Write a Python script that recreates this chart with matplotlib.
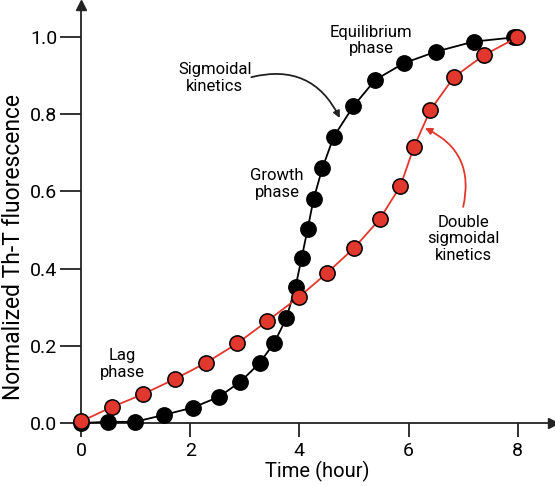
import matplotlib
matplotlib.use('Agg')
import matplotlib.pyplot as plt

plt.rcParams['font.family'] = ['Roboto', 'DejaVu Sans']

# sigmoidal (black) series
time_sig = [0, 0.49, 0.99, 1.52, 2.05, 2.53, 2.92, 3.27, 3.54, 3.76, 3.93,
            4.04, 4.15, 4.26, 4.42, 4.63, 4.99, 5.39, 5.91, 6.50, 7.19, 7.93]
fluo_sig = [0.0, 0.003, 0.003, 0.021, 0.040, 0.068, 0.107, 0.155, 0.208,
            0.271, 0.353, 0.427, 0.502, 0.580, 0.660, 0.742, 0.821, 0.889,
            0.932, 0.962, 0.988, 0.999]

# double sigmoidal (red) series
time_dbl = [0, 0.56, 1.14, 1.72, 2.29, 2.86, 3.41, 3.99, 4.50, 5.00, 5.47,
            5.85, 6.10, 6.40, 6.83, 7.38, 7.99]
fluo_dbl = [0.004, 0.041, 0.075, 0.114, 0.156, 0.206, 0.264, 0.326, 0.388,
            0.453, 0.528, 0.614, 0.716, 0.811, 0.896, 0.953, 0.999]

xticks = [0, 2, 4, 6, 8]
yticks = [0.0, 0.2, 0.4, 0.6, 0.8, 1.0]

red = '#e2372c'

fig = plt.figure(figsize=(5.55, 4.86), dpi=100)
ax = fig.add_axes([81 / 555, 63 / 486, 472 / 555, 418 / 486])
ax.set_xlim(0, 472 / 54.6)
ax.set_ylim(0, 418 / 386)

ax.plot(time_sig, fluo_sig, '-o', color='black', lw=1.3, ms=11,
        mfc='black', mec='black', mew=1.1, clip_on=False, zorder=3)
ax.plot(time_dbl, fluo_dbl, '-o', color=red, lw=1.3, ms=11,
        mfc=red, mec='black', mew=1.1, clip_on=False, zorder=4)

for s in ['top', 'right']:
    ax.spines[s].set_visible(False)
for s in ['left', 'bottom']:
    ax.spines[s].set_linewidth(1.3)
    ax.spines[s].set_color('#222222')

# arrow heads on the axes
ax.plot(1, 0, '>', color='#222222', ms=7, transform=ax.transAxes, clip_on=False)
ax.plot(0, 1, '^', color='#222222', ms=7, transform=ax.transAxes, clip_on=False)

ax.set_xticks(xticks)
ax.set_yticks(yticks)
ax.set_yticklabels([f'{v:.1f}' for v in yticks])
ax.tick_params(axis='y', length=15, width=1.3, pad=2, labelsize=14, color='#222222')
ax.tick_params(axis='x', length=10, width=1.3, pad=4, labelsize=14, color='#222222')

ax.set_xlabel('Time (hour)', fontsize=14.5, labelpad=0)
ax.set_ylabel('Normalized Th-T fluorescence', fontsize=16.5)
ax.yaxis.set_label_coords(-0.118, 0.42)

fs = 12
ax.text(0.75, 0.153, 'Lag\nphase', ha='center', va='center', fontsize=fs,
        linespacing=1.1)
ax.text(2.45, 0.894, 'Sigmoidal\nkinetics', ha='center', va='center',
        fontsize=fs, linespacing=1.1)
ax.text(3.59, 0.619, 'Growth\nphase', ha='center', va='center', fontsize=fs,
        linespacing=1.1)
ax.text(5.31, 0.99, 'Equilibrium\nphase', ha='center', va='center',
        fontsize=fs, linespacing=1.1)
ax.text(7.0, 0.477, 'Double\nsigmoidal\nkinetics', ha='center', va='center',
        fontsize=fs, linespacing=1.1)

ax.annotate('', xy=(4.74, 0.79), xytext=(3.12, 0.896),
            arrowprops=dict(arrowstyle='-|>', color='#222222', lw=1.3,
                            mutation_scale=10,
                            connectionstyle='arc3,rad=-0.4',
                            shrinkA=0, shrinkB=0))
ax.annotate('', xy=(6.30, 0.764), xytext=(7.0, 0.56),
            arrowprops=dict(arrowstyle='-|>', color=red, lw=1.3,
                            mutation_scale=10,
                            connectionstyle='arc3,rad=0.4',
                            shrinkA=0, shrinkB=0))

fig.savefig('out.png', dpi=100)
